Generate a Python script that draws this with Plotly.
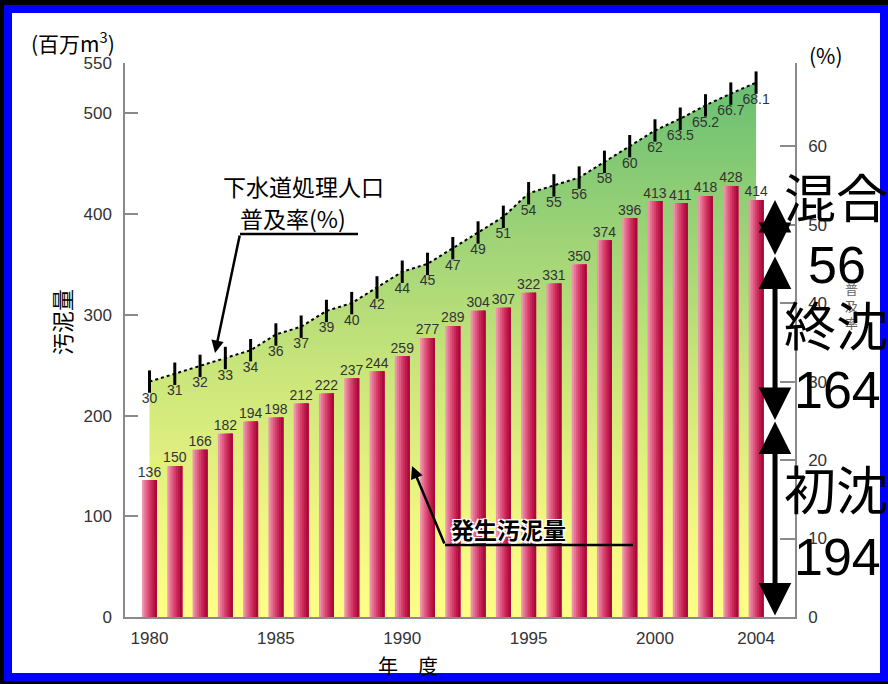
import plotly.graph_objects as go

# ---- data -------------------------------------------------------------
years = list(range(1980, 2005))
sludge = [136, 150, 166, 182, 194, 198, 212, 222, 237, 244, 259, 277, 289,
          304, 307, 322, 331, 350, 374, 396, 413, 411, 418, 428, 414]
sewer_rate = [30, 31, 32, 33, 34, 36, 37, 39, 40, 42, 44, 45, 47, 49, 51,
              54, 55, 56, 58, 60, 62, 63.5, 65.2, 66.7, 68.1]
year_ticks = [1980, 1985, 1990, 1995, 2000, 2004]
sludge_ticks = [0, 100, 200, 300, 400, 500, 550]
rate_ticks = [0, 10, 20, 30, 40, 50, 60]
breakdown_names = ["初沈", "終沈", "混合"]
breakdown_values = [194, 164, 56]

# ---- geometry helpers (pixel -> paper) ---------------------------------
W, H = 888, 684
L, R, T, B = 125, 795, 63, 617
RATE_TOP = 70.6
X_RANGE = [1979.03, 2005.54]


def px(x):
    return (x - L) / (R - L)


def py(y):
    return (B - y) / (B - T)


SANS = "Liberation Sans, Noto Sans CJK JP, sans-serif"
JP = "Noto Sans CJK JP, sans-serif"
GREY = "#8a8a8a"
TXT = "#333333"


def label(text, x, y, size, color="black", family=JP, **kw):
    """Free text placed by its centre, given in figure pixels."""
    return dict(text=text, x=px(x), y=py(y), xref="paper", yref="paper",
                xanchor="center", yanchor="middle", showarrow=False,
                font=dict(size=size, color=color, family=family,
                          **kw.pop("font_extra", {})), **kw)


fig = go.Figure()

# sewer coverage rate: gradient area + dotted line with tick marks
fig.add_trace(go.Scatter(
    x=years, y=sewer_rate, yaxis="y",
    mode="lines+markers+text",
    fill="tozeroy",
    fillgradient=dict(type="vertical", start=0, stop=68.1,
                      colorscale=[[0, "#FFFF86"], [0.2, "#EEF581"],
                                  [0.45, "#CBE67B"], [0.7, "#A0D477"],
                                  [1, "#68BF72"]]),
    line=dict(color="black", width=2, dash="dot"),
    marker=dict(symbol="line-ns", size=16, line=dict(width=3, color="black")),
    text=[f"{v:g}" for v in sewer_rate],
    textposition="bottom center",
    textfont=dict(size=14, color=TXT, family=SANS),
    hoverinfo="skip", showlegend=False,
))

# sludge bars: stacked slices give the light-to-dark shading across each bar
bar_w = 0.59
shades = ["#EE93AC", "#E77495", "#DF587F", "#D53F6A", "#C92858",
          "#BB1748", "#A80B3B"]
n = len(shades)
for i, c in enumerate(shades):
    step = bar_w / n
    fig.add_trace(go.Bar(
        x=years, y=sludge, yaxis="y2",
        offset=-bar_w / 2 + i * step, width=bar_w - i * step,
        marker=dict(color=c, line=dict(width=0)),
        hoverinfo="skip", showlegend=False,
    ))

# value labels above the bars
fig.add_trace(go.Scatter(
    x=years, y=sludge, yaxis="y2", mode="text",
    text=[str(v) for v in sludge], textposition="top center",
    textfont=dict(size=14, color=TXT, family=SANS),
    hoverinfo="skip", showlegend=False,
))

# ---- frame and leader lines -------------------------------------------
shapes = [
    dict(type="rect", xref="paper", yref="paper", layer="below",
         x0=px(8), x1=px(884), y0=py(677), y1=py(9),
         fillcolor="white", line=dict(color="#0000FF", width=8)),
    dict(type="line", xref="paper", yref="paper",
         x0=px(240), x1=px(358), y0=py(234), y1=py(234),
         line=dict(color="black", width=2.5)),
    dict(type="line", xref="paper", yref="paper",
         x0=px(445), x1=px(633), y0=py(545), y1=py(545),
         line=dict(color="black", width=2.5)),
]

annotations = [
    label("(百万m<sup>3</sup>)", 73, 42, 21),
    label("(%)", 826, 55, 21),
    label("汚泥量", 61, 322, 22, textangle=-90),
    label("年　度", 408, 665, 20),
    label("普<br>及<br>率", 851, 305, 13, color="#666666"),
    label("下水道処理人口", 303, 186, 23),
    label("普及率(%)", 293, 218, 23),
    dict(text="", x=px(215), y=py(353), xref="paper", yref="paper",
         ax=25, ay=-119, showarrow=True, arrowhead=2, arrowsize=1,
         arrowwidth=2.5, arrowcolor="black", standoff=0),
    label("<b>発生汚泥量</b>", 508, 529, 23,
          font_extra=dict(shadow="1.5px 1.5px 0 white, -1.5px -1.5px 0 white, "
                                 "1.5px -1.5px 0 white, -1.5px 1.5px 0 white")),
    dict(text="", x=px(412), y=py(466), xref="paper", yref="paper",
         ax=33, ay=79, showarrow=True, arrowhead=2, arrowsize=1,
         arrowwidth=2.5, arrowcolor="black", standoff=0),
]

# breakdown of the latest year's sludge: double-headed arrows on the 2004 bar
base = 0
for name, val in zip(breakdown_names, breakdown_values):
    annotations.append(dict(
        text="", x=2004.75, y=base + val, ax=2004.75, ay=base,
        xref="x", yref="y2", axref="x", ayref="y2",
        showarrow=True, arrowside="end+start",
        arrowhead=2, startarrowhead=2, arrowsize=1.3, startarrowsize=1.3,
        arrowwidth=5, arrowcolor="black", standoff=0, startstandoff=0,
    ))
    base += val

label_pos = {"混合": (200, 265), "終沈": (328, 390), "初沈": (492, 557)}
for name, val in zip(breakdown_names, breakdown_values):
    y_name, y_val = label_pos[name]
    annotations.append(label(name, 836, y_name, 52, family=SANS))
    annotations.append(label(str(val), 837, y_val, 52, family=SANS))

fig.update_layout(
    width=W, height=H,
    margin=dict(l=L, r=W - R, t=T, b=H - B, pad=0),
    paper_bgcolor="black", plot_bgcolor="rgba(0,0,0,0)",
    font=dict(family=SANS, color=TXT),
    barmode="overlay",
    showlegend=False,
    shapes=shapes, annotations=annotations,
    xaxis=dict(range=X_RANGE, tickvals=year_ticks, ticks="",
               showline=True, linecolor=GREY, linewidth=1.5,
               showgrid=False, zeroline=False, ticklabelstandoff=5,
               tickfont=dict(size=17, color=TXT, family=SANS)),
    yaxis=dict(side="right", range=[0, RATE_TOP],
               tickvals=rate_ticks + [RATE_TOP],
               ticktext=[str(v) for v in rate_ticks] + [""],
               ticks="inside", ticklen=15, tickwidth=1.5, tickcolor=GREY,
               showline=True, linecolor=GREY, linewidth=1.5,
               showgrid=False, zeroline=False, ticklabelstandoff=8,
               tickfont=dict(size=17, color=TXT, family=SANS)),
    yaxis2=dict(side="left", overlaying="y", anchor="x", range=[0, 550],
                tickvals=sludge_ticks,
                ticks="inside", ticklen=13, tickwidth=1.5, tickcolor=GREY,
                showline=True, linecolor=GREY, linewidth=1.5,
                showgrid=False, zeroline=False, ticklabelstandoff=8,
                tickfont=dict(size=17, color=TXT, family=SANS)),
)

fig.write_html("out.html")
